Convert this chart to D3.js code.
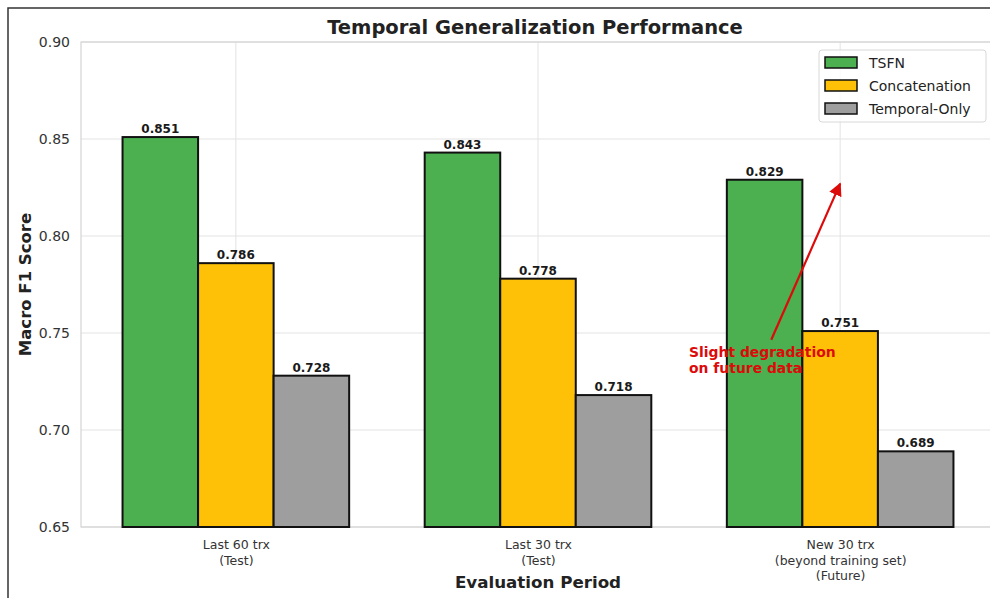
<!DOCTYPE html>
<html>
<head>
<meta charset="utf-8">
<script src="https://cdn.jsdelivr.net/npm/d3@7"></script>
<style>
  body { margin: 0; background: #fff; }
  svg { display: block; font-family: "DejaVu Sans", sans-serif; }
</style>
</head>
<body>
<div id="chart"></div>
<script>
// ----------------------
// Temporal generalization grouped bar chart
// ----------------------

const categories = [
    ["Last 60 trx", "(Test)"],
    ["Last 30 trx", "(Test)"],
    ["New 30 trx", "(beyond training set)", "(Future)"]
];
const seriesNames = ["TSFN", "Concatenation", "Temporal-Only"];
const seriesColors = ["#4CAF50", "#FFC107", "#9E9E9E"];
const tsfnValues = [0.851, 0.843, 0.829];
const concatValues = [0.786, 0.778, 0.751];
const temporalValues = [0.728, 0.718, 0.689];
const yTicks = [0.65, 0.70, 0.75, 0.80, 0.85, 0.90];

// annotation: text anchor and arrow, in data units (category index, score)
const noteLines = ["Slight degradation", "on future data"];
const noteText = [1.5, 0.745];
const noteFrom = [1.772, 0.7465];
const noteTo = [2, 0.827];

const width = 990;
const height = 598;
const margin = { top: 42, left: 81, bottom: 527, right: 995 };
const FONT = "DejaVu Sans, sans-serif";

const svg = d3.select("#chart")
    .append("svg")
    .attr("width", width)
    .attr("height", height);

const y = d3.scaleLinear()
    .domain([0.65, 0.90])
    .range([margin.bottom, margin.top]);

const catIdx = categories.map((c, i) => i);
const x0 = d3.scalePoint()
    .domain(catIdx)
    .range([margin.left, margin.right])
    .padding(0.5125);

// continuous x for annotation coordinates
const xc = d3.scaleLinear()
    .domain([0, 2])
    .range([x0(0), x0(2)]);

const groupW = x0.step() * 0.75;
const x1 = d3.scaleBand()
    .domain(seriesNames)
    .range([-groupW / 2, groupW / 2]);

const rows = catIdx.map(i => ({
    cat: i,
    values: [tsfnValues[i], concatValues[i], temporalValues[i]]
}));

// Grid
const grid = svg.append("g");
grid.selectAll("line.h")
    .data(yTicks)
    .enter()
    .append("line")
    .attr("x1", margin.left)
    .attr("x2", margin.right)
    .attr("y1", d => y(d))
    .attr("y2", d => y(d))
    .attr("stroke", "#e3e3e3")
    .attr("stroke-width", 1);

grid.selectAll("line.v")
    .data(catIdx)
    .enter()
    .append("line")
    .attr("x1", d => x0(d))
    .attr("x2", d => x0(d))
    .attr("y1", margin.top)
    .attr("y2", margin.bottom)
    .attr("stroke", "#e3e3e3")
    .attr("stroke-width", 1);

// Spines
svg.append("rect")
    .attr("x", margin.left)
    .attr("y", margin.top)
    .attr("width", margin.right - margin.left)
    .attr("height", margin.bottom - margin.top)
    .attr("fill", "none")
    .attr("stroke", "#d4d4d4")
    .attr("stroke-width", 1.2);

// Bars
const groups = svg.append("g")
    .selectAll("g")
    .data(rows)
    .enter()
    .append("g")
    .attr("transform", d => `translate(${x0(d.cat)},0)`);

groups.selectAll("rect")
    .data(d => d.values.map((v, j) => ({ name: seriesNames[j], v, j })))
    .enter()
    .append("rect")
    .attr("x", d => x1(d.name))
    .attr("y", d => y(d.v))
    .attr("width", x1.bandwidth())
    .attr("height", d => y(0.65) - y(d.v))
    .attr("fill", d => seriesColors[d.j])
    .attr("stroke", "#111")
    .attr("stroke-width", 2);

groups.selectAll("text")
    .data(d => d.values.map((v, j) => ({ name: seriesNames[j], v })))
    .enter()
    .append("text")
    .attr("x", d => x1(d.name) + x1.bandwidth() / 2)
    .attr("y", d => y(d.v) - 4)
    .attr("text-anchor", "middle")
    .attr("font-size", "12px")
    .attr("font-weight", "bold")
    .attr("fill", "#1a1a1a")
    .text(d => d.v.toFixed(3));

// Y axis tick labels
const yAxis = d3.axisLeft(y)
    .tickValues(yTicks)
    .tickSize(0)
    .tickPadding(11)
    .tickFormat(d3.format(".2f"));

svg.append("g")
    .attr("transform", `translate(${margin.left},0)`)
    .call(yAxis)
    .attr("font-family", FONT)
    .call(g => g.select(".domain").remove())
    .call(g => g.selectAll("text")
        .attr("font-size", "14px")
        .attr("fill", "#333"));

// X tick labels (multi-line)
const xAxis = d3.axisBottom(x0)
    .tickSize(0)
    .tickFormat(() => "");

const xg = svg.append("g")
    .attr("transform", `translate(0,${margin.bottom})`)
    .call(xAxis)
    .attr("font-family", FONT)
    .call(g => g.select(".domain").remove());

xg.selectAll(".tick text").remove();
xg.selectAll(".tick")
    .append("text")
    .attr("text-anchor", "middle")
    .attr("font-size", "12.5px")
    .attr("fill", "#333")
    .selectAll("tspan")
    .data(d => categories[d])
    .enter()
    .append("tspan")
    .attr("x", 0)
    .attr("y", (d, i) => 22 + i * 15.5)
    .text(d => d);

// Titles
svg.append("text")
    .attr("x", (margin.left + margin.right) / 2 - 3)
    .attr("y", 34)
    .attr("text-anchor", "middle")
    .attr("font-size", "19.5px")
    .attr("font-weight", "bold")
    .attr("fill", "#222")
    .text("Temporal Generalization Performance");

svg.append("text")
    .attr("x", x0(1))
    .attr("y", 588)
    .attr("text-anchor", "middle")
    .attr("font-size", "16.7px")
    .attr("font-weight", "bold")
    .attr("fill", "#222")
    .text("Evaluation Period");

svg.append("text")
    .attr("transform", `translate(31,${(margin.top + margin.bottom) / 2}) rotate(-90)`)
    .attr("text-anchor", "middle")
    .attr("font-size", "16.5px")
    .attr("font-weight", "bold")
    .attr("fill", "#222")
    .text("Macro F1 Score");

// Annotation
svg.append("defs")
    .append("marker")
    .attr("id", "head")
    .attr("viewBox", "0 0 10 10")
    .attr("refX", 9)
    .attr("refY", 5)
    .attr("markerWidth", 6)
    .attr("markerHeight", 6)
    .attr("orient", "auto")
    .append("path")
    .attr("d", "M0,0 L10,5 L0,10 z")
    .attr("fill", "#dd0a0a");

svg.append("line")
    .attr("x1", xc(noteFrom[0]))
    .attr("y1", y(noteFrom[1]))
    .attr("x2", xc(noteTo[0]))
    .attr("y2", y(noteTo[1]))
    .attr("stroke", "#dd0a0a")
    .attr("stroke-width", 2.2)
    .attr("marker-end", "url(#head)");

svg.append("text")
    .attr("font-size", "13.9px")
    .attr("font-weight", "bold")
    .attr("fill", "#dd0a0a")
    .selectAll("tspan")
    .data(noteLines)
    .enter()
    .append("tspan")
    .attr("x", xc(noteText[0]))
    .attr("y", (d, i) => y(noteText[1]) + 14 + i * 16)
    .text(d => d);

// Legend
const legend = svg.append("g")
    .attr("transform", "translate(819,50)");

legend.append("rect")
    .attr("width", 167)
    .attr("height", 72)
    .attr("rx", 3)
    .attr("fill", "#fff")
    .attr("fill-opacity", 0.8)
    .attr("stroke", "#d8d8d8");

seriesNames.forEach((name, i) => {
    const g = legend.append("g").attr("transform", `translate(6, ${7 + i * 23})`);

    g.append("rect")
        .attr("width", 32)
        .attr("height", 11)
        .attr("fill", seriesColors[i])
        .attr("stroke", "#111")
        .attr("stroke-width", 1.5);

    g.append("text")
        .attr("x", 44)
        .attr("y", 11)
        .attr("font-size", "14px")
        .attr("fill", "#222")
        .text(name);
});

// Outer frame (top and left edge of the picture)
svg.append("path")
    .attr("d", `M8,${height} L8,8 L${width},8`)
    .attr("fill", "none")
    .attr("stroke", "#333")
    .attr("stroke-width", 1.5);
</script>
</body>
</html>
